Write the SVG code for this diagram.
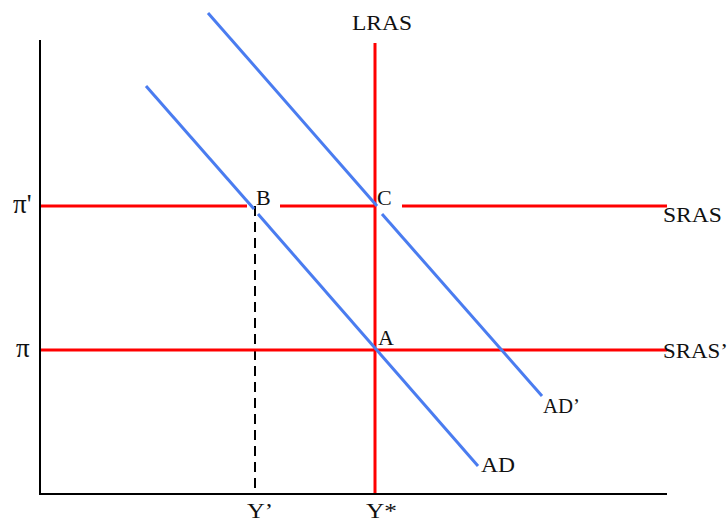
<svg xmlns="http://www.w3.org/2000/svg" width="728" height="522" viewBox="0 0 728 522">
<style>
.t{font-family:"Liberation Serif","DejaVu Serif",serif;font-size:22px;fill:#111}
.pi{font-size:27px}
.red{stroke:#ff0000;stroke-width:3;fill:none}
.blue{stroke:#4a7cf0;stroke-width:3;fill:none}
.ax{stroke:#000;stroke-width:2;fill:none}
</style>
<rect width="728" height="522" fill="#fff"/>
<g id="connectors">
<g id="axes">
<line class="ax" x1="40" y1="40" x2="40" y2="494"/>
<line class="ax" x1="39" y1="494" x2="667" y2="494"/>
</g>
<line id="dashed" x1="255" y1="206" x2="255" y2="493" stroke="#000" stroke-width="2" stroke-dasharray="10,6"/>
<g id="lras"><line class="red" x1="375" y1="43" x2="375" y2="493"/></g>
<g id="sras">
<line class="red" x1="41" y1="206" x2="247" y2="206"/>
<line class="red" x1="280" y1="206" x2="376" y2="206"/>
<line class="red" x1="402" y1="206" x2="667" y2="206"/>
</g>
<g id="sras1"><line class="red" x1="41" y1="350" x2="667" y2="350"/></g>
<g id="ad">
<line class="blue" x1="146" y1="86" x2="254" y2="209"/>
<line class="blue" x1="258" y1="214" x2="478" y2="466"/>
</g>
<g id="ad2">
<line class="blue" x1="208" y1="13" x2="377" y2="206"/>
<line class="blue" x1="382" y1="214" x2="542" y2="396"/>
</g>
</g>
<g id="labels">
<text class="t" x="352" y="30" textLength="60" lengthAdjust="spacingAndGlyphs">LRAS</text>
<text class="t" x="663" y="222" textLength="59" lengthAdjust="spacingAndGlyphs">SRAS</text>
<text class="t" x="663" y="358" textLength="65" lengthAdjust="spacingAndGlyphs">SRAS’</text>
<text class="t pi" x="13" y="213">π'</text>
<text class="t pi" x="16" y="357">π</text>
<text class="t" x="256" y="205">B</text>
<text class="t" x="377" y="205">C</text>
<text class="t" x="378" y="345">A</text>
<text class="t" x="543" y="413" textLength="37" lengthAdjust="spacingAndGlyphs">AD’</text>
<text class="t" x="481" y="472" textLength="34" lengthAdjust="spacingAndGlyphs">AD</text>
<text class="t" x="247" y="518" textLength="26" lengthAdjust="spacingAndGlyphs">Y’</text>
<text class="t" x="366" y="518" textLength="31" lengthAdjust="spacingAndGlyphs">Y*</text>
</g>
</svg>
